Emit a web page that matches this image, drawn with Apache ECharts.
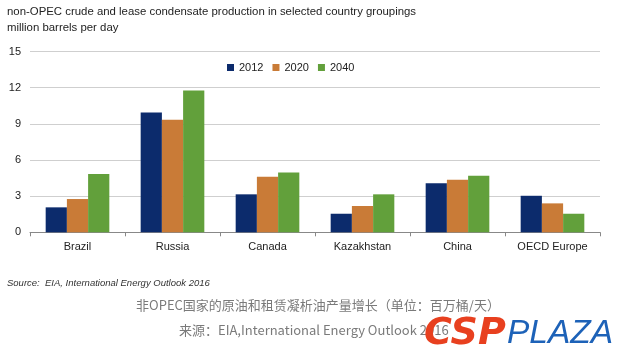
<!DOCTYPE html>
<html><head><meta charset="utf-8">
<script src="https://cdn.jsdelivr.net/npm/echarts@6/dist/echarts.min.js"></script>
<style>html,body{margin:0;padding:0;background:#fff}#c{width:620px;height:361px}</style>
</head><body><div id="c"></div>
<script>
const categories = ['Brazil','Russia','Canada','Kazakhstan','China','OECD Europe'];
const seriesNames = ['2012','2020','2040'];
const v2012 = [2.07, 9.94, 3.15, 1.54, 4.06, 3.03];
const v2020 = [2.76, 9.33, 4.61, 2.18, 4.36, 2.40];
const v2040 = [4.83, 11.76, 4.97, 3.15, 4.69, 1.54];
const yTicks = [0, 3, 6, 9, 12, 15];
const colors = ['#0c2b6c', '#c97b37', '#62a03b'];
const values = [v2012, v2020, v2040];

const chart = echarts.init(document.getElementById('c'));
const font = 'Liberation Sans, Arial, sans-serif';
chart.setOption({
  animation: false,
  textStyle: {fontFamily: font},
  grid: {left: 30, right: 20, top: 51.5, height: 180.8, containLabel: false},
  legend: {
    top: 57, left: 222, itemWidth: 7, itemHeight: 7, itemGap: 9,
    icon: 'rect', textStyle: {fontSize: 11, color: '#222', fontFamily: font},
    data: seriesNames
  },
  xAxis: {
    type: 'category', data: categories,
    axisLine: {lineStyle: {color: '#888'}},
    axisTick: {show: true, length: 4, lineStyle: {color: '#888'}},
    axisLabel: {fontSize: 11, color: '#222', margin: 9}
  },
  yAxis: {
    type: 'value', min: yTicks[0], max: yTicks[yTicks.length-1], interval: 3,
    axisLine: {show: false}, axisTick: {show: false},
    axisLabel: {fontSize: 11, color: '#222', margin: 9},
    splitLine: {lineStyle: {color: '#cfcfcf', width: 1}}
  },
  series: seriesNames.map((n, i) => ({
    name: n, type: 'bar', data: values[i],
    barGap: '0%', barCategoryGap: '33%',
    itemStyle: {color: colors[i]}
  })),
  graphic: [
    {type: 'text', left: 7, top: 6, style: {text: 'non-OPEC crude and lease condensate production in selected country groupings', fontSize: 11.4, fill: '#222', fontFamily: font}},
    {type: 'text', left: 7, top: 22, style: {text: 'million barrels per day', fontSize: 11.4, fill: '#222', fontFamily: font}},
    {type: 'text', left: 7, top: 278, style: {text: 'Source:  EIA, International Energy Outlook 2016', fontSize: 9.5, fontStyle: 'italic', fill: '#333', fontFamily: font}},
    {type: 'text', left: 136, top: 299, style: {text: '非OPEC国家的原油和租赁凝析油产量增长（单位：百万桶/天）', fontSize: 13, fill: '#7a7a7a', fontFamily: 'Noto Sans CJK SC'}},
    {type: 'text', left: 179, top: 324, style: {text: '来源：EIA,International Energy Outlook 2016', fontSize: 13, fill: '#7a7a7a', fontFamily: 'Noto Sans CJK SC'}},
    {type: 'text', left: 424, top: 315, z: 10, style: {text: 'CSP', fontSize: 38, fontWeight: 900, fontStyle: 'italic', fill: '#e8401f', fontFamily: 'DejaVu Sans'}},
    {type: 'text', left: 507, top: 317, z: 10, style: {text: 'PLAZA', fontSize: 33.5, fontStyle: 'italic', fill: '#1d62b8', fontFamily: 'Liberation Sans'}}
  ]
});
</script>
</body></html>
